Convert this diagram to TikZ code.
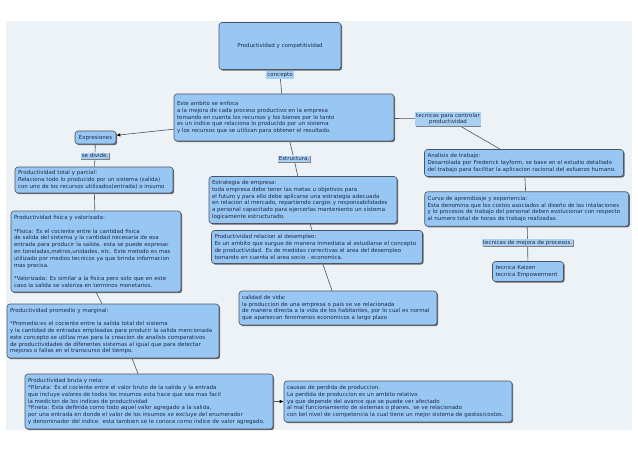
\documentclass[tikz,border=0pt]{standalone}
\usepackage{fontspec}
\setmainfont{DejaVu Sans}
\usepackage{xcolor}
\usepackage{tikz}
\usetikzlibrary{positioning,arrows.meta,shadows}
\definecolor{mapblue}{HTML}{99C7F4}
\definecolor{maplabel}{HTML}{A9CFF2}
\definecolor{mapline}{HTML}{4A5563}
\definecolor{mapbg}{HTML}{EDF2F6}
\definecolor{maptext}{HTML}{1C2B4A}
\pgfdeclarelayer{background}
\pgfdeclarelayer{links}
\pgfsetlayers{background,links,main}

\begin{document}
\begin{tikzpicture}[x=1pt, y=-1pt,
    box/.style={rectangle, rounded corners=3pt, draw=mapline, line width=0.6pt, fill=mapblue,
        text=maptext, font=\fontsize{5.5}{6.8}\selectfont, align=left, inner sep=3pt,
        drop shadow={shadow xshift=1.2pt, shadow yshift=-1.2pt, fill=black!60, opacity=1}},
    lbl/.style={rectangle, fill=maplabel, text=maptext, font=\fontsize{5.5}{6.8}\selectfont,
        align=center, inner sep=1pt,
        drop shadow={shadow xshift=0.6pt, shadow yshift=-0.8pt, fill=black!50, opacity=1}},
    link/.style={draw=mapline, line width=0.6pt},
    arr/.style={-{Latex[length=4pt, width=3.5pt, color=black]}, mapline, line width=0.6pt}
]
\useasboundingbox (0,0) rectangle (638,452);

\node[box, align=center, minimum width=122pt, minimum height=47pt] (top) at (280,46) {Productividad y competitividad};
\node[lbl] (concepto) at (280,75) {concepto};
\node[box, text width=214pt, minimum height=47pt] (main) at (284,117.5) {Este ambito se enfoca\\
a la mejora de cada proceso productivo en la empresa\\
tomando en cuenta los recursos y los bienes por lo tanto\\
es un indice que relaciona lo producido por un sistema\\
y los recursos que se utilizan para obtener el resultado.};

\node[box, align=center, minimum width=41pt, minimum height=13pt, inner sep=1pt] (expr) at (95.5,137.5) {Expresiones};
\node[lbl] (sedivide) at (95,156) {se divide,};
\node[box, text width=152pt, minimum height=26pt] (total) at (94,180) {Productividad total y parcial:\\
Relaciona todo lo producido por un sistema (salida)\\
con uno de los recursos utilizados(entrada) o insumo};
\node[box, text width=164pt, minimum height=81pt] (fisica) at (96,251.5) {Productividad fisica y valorizada:\\[6.8pt]
{*}Fisica: Es el cociente entre la cantidad fisica\\
de salida del sistema y la cantidad necesaria  de esa\\
entrada para  producir la salida. esta se puede expresar\\
en  toneladas,metros,unidades, etc. Este metodo es mas\\
utilizado  por medios tecnicos ya que brinda informacion\\
mas precisa.\\[6.8pt]
{*}Valorizada: Es similar a la fisica pero solo que en este\\
caso la salida se valoriza en terminos monetarios.};
\node[box, text width=206pt, minimum height=54pt] (promedio) at (113,331) {Productividad promedio y marginal:\\[6.8pt]
{*}Promedio:es el cociente entre la salida total del sistema\\
y la cantidad de entradas empleadas para producir la salida mencionada\\
este concepto se utiliza mas para la creacion de analisis comparativos\\
de productividades de diferentes sistemas al igual que para detectar\\
mejoras o fallas en el transcurso del tiempo.};
\node[box, text width=242pt, minimum height=55pt] (bruta) at (149,401.5) {Productividad bruta y neta:\\
{*}P.bruta: Es el cociente entre el valor bruto de la salida y la entrada\\
que incluye valores de todos los insumos esta hace que  sea mas facil\\
la medicion de los indices de productividad\\
{*}P.neta: Esta definida  como todo aquel valor agregado a la salida,\\
por una entrada en donde el valor de los insumos se excluye del enumerador\\
y denominador del indice. esta tambien se  le conoce como indice de valor agregado.};
\node[box, text width=222pt, minimum height=41pt] (causas) at (398,401.5) {causas de perdida de produccion.\\
La perdida de produccion es un ambito relativo\\
ya que depende del avance que se puede ver afectado\\
al mal funcionamiento de sistemas o planes. se ve relacionado\\
con bel nivel de competencia la cual tiene un mejor sistema de gastos/costos.};

\node[lbl] (estructura) at (294,159) {Estructura,};
\node[box, text width=182pt, minimum height=47pt] (estrategia) at (303,200) {Estrategia de empresa:\\
toda empresa debe tener las metas u objetivos para\\
el futuro  y para ello debe aplicarse una estrategia adecuada\\
en relacion al mercado, repartiendo cargos y responsabilidades\\
a personal capacitado para ejercerlas manteniento un sistema\\
logicamente estructurado.};
\node[box, text width=205pt, minimum height=33pt] (desempleo) at (317,247) {Productividad relacion al desempleo:\\
Es un ambito que surgue de manera inmediata al estudiarse el concepto\\
de productividad.  Es de  medidas correctivas el area del desempleo\\
tomando en cuenta el area socio - economica.};
\node[box, text width=192pt, minimum height=34pt] (calidad) at (338,308) {calidad de vida:\\
la produccion de una empresa o pais se ve relacionada\\
de manera directa a la vida de los habitantes, por lo cual es normal\\
que aparezcan fenomenos  economicos a largo plazo};

\node[lbl] (tecnicas) at (448,119) {tecnicas para controlar\\productividad};
\node[box, text width=193pt, minimum height=27pt] (analisis) at (524,163) {Analisis de trabajo:\\
Desarrolada por  Frederick tayform, se base en el estudio detallado\\
del trabajo para facilitar la aplicacion racional del esfuerzo humano.};
\node[box, text width=198pt, minimum height=34.5pt] (curva) at (526.7,209) {Curva de aprendizaje y experiencia:\\
Esta denomina que los costos asociados al diseño de las intalaciones\\
 y lo procesos de trabajo del personal deben evolucionar con respecto\\
al numero total de horas de trabajo realizadas.};
\node[lbl] (mejora) at (527.6,242.5) {tecnicas de mejora de procesos.};
\node[box, text width=65pt, minimum height=20pt] (kaizen) at (528,271.5) {tecnica Kaizen\\tecnica Empowerment};

\begin{pgfonlayer}{links}
\draw[link] (top) -- (concepto) -- (main);
\draw[arr] (main) -- (expr);
\draw[link] (expr) -- (sedivide) -- (total);
\draw[link] (total) -- (fisica);
\draw[link] (fisica.south) -- ([xshift=-11pt]promedio.north);
\draw[link] ([xshift=19pt]promedio.south) -- ([xshift=-11pt]bruta.north);
\draw[arr] (bruta) -- (causas);
\draw[link] (main) -- (estructura) -- (estrategia);
\draw[link] (estrategia) -- (desempleo) -- (calidad);
\draw[link] (main) -- (tecnicas) -- (analisis);
\draw[link] (analisis) -- (curva) -- (mejora) -- (kaizen);
\end{pgfonlayer}

\begin{pgfonlayer}{background}
\fill[white] (0,0) rectangle (638,452);
\fill[mapbg] (6,21) rectangle (632,430);
\end{pgfonlayer}
\end{tikzpicture}
\end{document}
